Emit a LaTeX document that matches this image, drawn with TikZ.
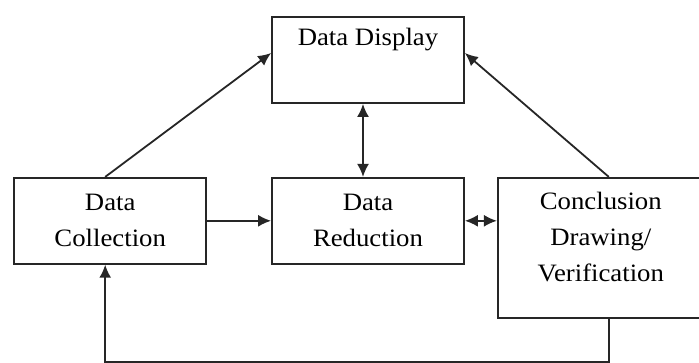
\documentclass[tikz,border=0pt]{standalone}
\usepackage{fontspec}
\setmainfont{Liberation Serif}[FakeStretch=1.07]
\usetikzlibrary{arrows.meta,positioning}

\begin{document}
\begin{tikzpicture}[x=1pt,y=1pt,
  box/.style={draw=black!85,line width=1.8pt,minimum width=192pt,minimum height=86pt,
    inner sep=0pt,align=center,font=\fontsize{25}{36}\selectfont},
  arr/.style={draw=black!85,line width=1.8pt,-{Latex[length=13pt,width=12pt]}},
  biarr/.style={arr,{Latex[length=13pt,width=12pt]}-{Latex[length=13pt,width=12pt]}}]
\useasboundingbox (0,0) rectangle (699,362);
% boxes
\node[box] (disp) at (368,302) {Data Display\\ \strut};
\node[box,below=73pt of disp] (red) {Data\\Reduction};
\node[box,left=64pt of red] (coll) {Data\\Collection};
\node[box,minimum width=206pt,minimum height=140pt,anchor=north west] (concl)
  at ([xshift=32pt]red.north east) {Conclusion\\Drawing/\\Verification\\[-14pt]};
% arrows
\draw[arr] ([xshift=-5pt]coll.north) -- ([yshift=7pt]disp.west);
\draw[arr] ([xshift=8pt]concl.north) -- ([yshift=7pt]disp.east);
\draw[biarr] ([xshift=-5pt]disp.south) -- ([xshift=-5pt]red.north);
\draw[arr] (coll) -- (red);
\draw[biarr] (red.east) -- (red.east -| concl.west);
\draw[arr] ([xshift=8pt]concl.south) -- ++(0,-43) -| ([xshift=-5pt]coll.south);
\end{tikzpicture}
\end{document}
